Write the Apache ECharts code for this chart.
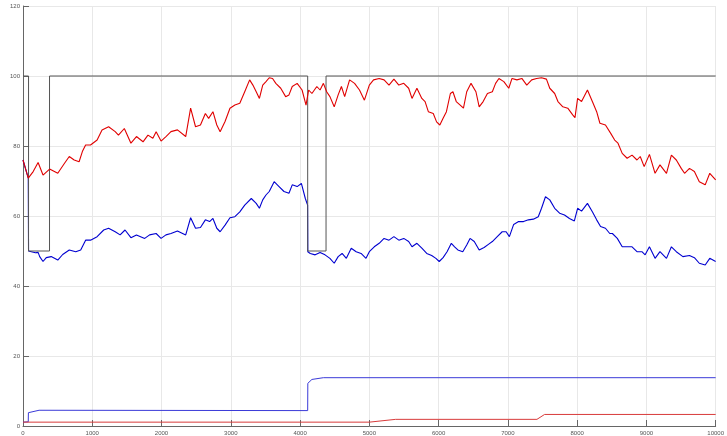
<!DOCTYPE html>
<html>
<head>
<meta charset="utf-8">
<script src="https://cdn.jsdelivr.net/npm/echarts@6/dist/echarts.min.js"></script>
<style>
  html, body { margin: 0; padding: 0; background: #ffffff; }
  #chart { width: 727px; height: 436px; }
</style>
</head>
<body>
<div id="chart"></div>
<script>
// Axis ticks
const xTicks = [0, 1000, 2000, 3000, 4000, 5000, 6000, 7000, 8000, 9000, 10000];
const yTicks = [0, 20, 40, 60, 80, 100, 120];

// Upper red trace [x, value]
const redTrace = [
  [0, 76], [76, 70.8], [147, 72.7], [218, 75.3], [289, 71.7], [384, 73.4], [502, 72.2],
  [597, 75], [668, 77], [739, 76], [810, 75.5], [857, 78.4], [904, 80.3], [975, 80.3],
  [1070, 81.7], [1141, 84.6], [1236, 85.5], [1331, 84.1], [1378, 83.1], [1463, 85],
  [1558, 80.8], [1638, 82.7], [1733, 81.2], [1804, 83.1], [1875, 82.2], [1922, 84.1],
  [1993, 81.4], [2064, 82.7], [2136, 84.1], [2230, 84.6], [2349, 82.7], [2420, 90.8],
  [2491, 85.5], [2562, 86], [2633, 89.3], [2680, 87.9], [2742, 89.8], [2798, 86],
  [2846, 84.1], [2917, 87], [2988, 90.8], [3059, 91.7], [3130, 92.2], [3201, 95.5],
  [3272, 98.9], [3319, 97.4], [3367, 95.5], [3413, 93.6], [3461, 97.4], [3508, 98.4],
  [3555, 99.5], [3603, 99.3], [3650, 97.9], [3721, 96.5], [3792, 94.1], [3840, 94.6],
  [3887, 97], [3958, 97.9], [4029, 96], [4086, 91.7], [4124, 96], [4171, 95], [4242, 97],
  [4289, 96], [4337, 97.9], [4384, 95.5], [4431, 94.1], [4493, 91.2], [4550, 94.6],
  [4597, 97], [4644, 94.1], [4715, 98.9], [4787, 97.9], [4858, 96], [4929, 93.1],
  [5000, 97.4], [5061, 98.9], [5142, 99.3], [5213, 98.9], [5284, 97.4], [5355, 99.1],
  [5426, 97.4], [5497, 97.9], [5568, 96.5], [5616, 93.6], [5687, 96.5], [5758, 93.6],
  [5805, 92.7], [5852, 89.8], [5923, 89.3], [5971, 86.9], [6018, 86], [6065, 87.9],
  [6113, 89.8], [6170, 95], [6207, 95.5], [6255, 92.7], [6312, 91.7], [6359, 90.8],
  [6406, 95.5], [6468, 97.9], [6539, 95.5], [6586, 91.2], [6643, 92.7], [6705, 95],
  [6776, 95.5], [6823, 97.9], [6871, 99.3], [6942, 98.4], [7013, 96.5], [7060, 99.3],
  [7131, 98.9], [7202, 99.3], [7273, 97.4], [7344, 98.9], [7415, 99.3], [7486, 99.5],
  [7557, 99.1], [7605, 96.5], [7676, 95], [7723, 92.7], [7794, 91.2], [7865, 90.8],
  [7936, 88.9], [7969, 88.1], [8007, 93.6], [8064, 92.7], [8149, 96], [8220, 92.7],
  [8282, 89.8], [8329, 86.5], [8409, 86], [8485, 83.6], [8542, 81.7], [8590, 80.8],
  [8651, 77.9], [8722, 76.5], [8793, 77.4], [8864, 76], [8911, 77], [8968, 74.1],
  [9044, 77.6], [9125, 72.2], [9196, 74.6], [9290, 72.2], [9361, 77.4], [9432, 76],
  [9503, 73.6], [9551, 72.2], [9622, 73.6], [9693, 72.7], [9764, 69.8], [9849, 68.9],
  [9915, 72.2], [10000, 70.3]
];

// Upper blue trace [x, value]
const blueTrace = [
  [0, 76], [76, 70.8], [80, 50], [120, 49.8], [180, 49.5], [218, 49.6], [241, 48.4],
  [289, 47], [336, 48.1], [407, 48.4], [502, 47.4], [573, 49], [668, 50.3], [762, 49.8],
  [833, 50.3], [904, 53.1], [975, 53.1], [1070, 54.1], [1165, 56], [1236, 56.5],
  [1331, 55.5], [1402, 54.6], [1473, 56], [1558, 53.8], [1638, 54.6], [1662, 54.1],
  [1757, 53.6], [1828, 54.6], [1922, 55], [1993, 53.6], [2064, 54.6], [2136, 55],
  [2230, 55.7], [2349, 54.6], [2420, 59.5], [2491, 56.5], [2562, 56.7], [2633, 58.9],
  [2694, 58.4], [2742, 59.3], [2798, 56.5], [2846, 55.5], [2917, 57.4], [2988, 59.5],
  [3059, 59.8], [3130, 61.2], [3201, 63.1], [3296, 65], [3367, 63.6], [3413, 62.2],
  [3461, 64.6], [3508, 66], [3555, 67], [3626, 69.8], [3697, 68.4], [3768, 67],
  [3840, 66.5], [3887, 68.9], [3958, 68.4], [4019, 69.3], [4076, 65], [4109, 63.1],
  [4112, 49.8], [4147, 49.3], [4218, 48.9], [4289, 49.6], [4360, 48.9], [4431, 47.9],
  [4493, 46.5], [4550, 48.4], [4607, 49.3], [4668, 47.9], [4739, 50.8], [4810, 49.8],
  [4881, 49.3], [4952, 47.9], [5000, 49.8], [5071, 51.2], [5142, 52.2], [5213, 53.6],
  [5284, 53.1], [5355, 54.1], [5426, 53.1], [5497, 53.6], [5568, 52.7], [5616, 51.2],
  [5687, 52.2], [5758, 50.8], [5829, 49.3], [5900, 48.7], [5961, 47.9], [6009, 47],
  [6065, 48.1], [6122, 49.8], [6184, 52.2], [6231, 51.2], [6278, 50.3], [6349, 49.8],
  [6406, 51.7], [6454, 53.6], [6515, 52.7], [6586, 50.3], [6657, 51], [6719, 51.9],
  [6776, 52.7], [6847, 54.1], [6918, 55.5], [6975, 55.5], [7022, 54.1], [7084, 57.6],
  [7155, 58.4], [7226, 58.4], [7297, 58.9], [7368, 59.1], [7439, 59.8], [7486, 62.2],
  [7543, 65.5], [7605, 64.6], [7676, 62.2], [7747, 60.8], [7818, 60.3], [7889, 59.3],
  [7960, 58.6], [8007, 62.2], [8064, 61.4], [8149, 63.6], [8220, 61.2], [8282, 58.9],
  [8338, 57], [8409, 56.5], [8471, 55], [8509, 55], [8580, 53.6], [8651, 51.2],
  [8722, 51.2], [8793, 51.2], [8864, 49.8], [8935, 49.8], [8982, 48.9], [9044, 51.2],
  [9125, 47.9], [9196, 49.8], [9290, 47.9], [9361, 51.2], [9432, 49.8], [9527, 48.4],
  [9622, 48.7], [9693, 48.1], [9764, 46.5], [9849, 46], [9915, 47.9], [10000, 47]
];

// Setpoint step (black)
const setpoint = [
  [0, 100], [80, 100], [80, 50], [383, 50], [383, 100], [4110, 100], [4110, 50],
  [4375, 50], [4375, 100], [10000, 100]
];

// Lower blue step
const blueLow = [
  [0, 1.1], [76, 1.2], [78, 3.8], [232, 4.5], [4110, 4.4], [4112, 12.2], [4171, 13.3],
  [4337, 13.8], [10000, 13.8]
];

// Lower red ramp
const redLow = [
  [0, 1.1], [5000, 1.1], [5380, 1.9], [7420, 1.9], [7530, 3.3], [10000, 3.3]
];

const chart = echarts.init(document.getElementById('chart'), null, { renderer: 'canvas' });

function lineSeries(name, data, color, width, z) {
  return {
    name: name,
    type: 'line',
    data: data,
    showSymbol: false,
    symbol: 'none',
    z: z,
    lineStyle: { color: color, width: width },
    emphasis: { disabled: true }
  };
}

const labelStyle = { color: '#555', fontSize: 6, fontFamily: 'Liberation Sans, Arial, sans-serif' };

chart.setOption({
  animation: false,
  backgroundColor: '#ffffff',
  grid: { left: 23, right: 0, top: 6, bottom: 10, containLabel: false },
  xAxis: {
    type: 'value',
    min: xTicks[0],
    max: xTicks[xTicks.length - 1],
    interval: 1000,
    axisLine: { show: true, lineStyle: { color: '#666', width: 1 } },
    axisTick: { show: true, inside: true, length: 6, lineStyle: { color: '#666' } },
    axisLabel: Object.assign({
      margin: 4, showMaxLabel: true, alignMaxLabel: 'center', alignMinLabel: 'center',
      formatter: v => String(v)
    }, labelStyle),
    splitLine: { show: true, lineStyle: { color: '#e8e8e8', width: 1 } }
  },
  yAxis: {
    type: 'value',
    min: yTicks[0],
    max: yTicks[yTicks.length - 1],
    interval: 20,
    axisLine: { show: true, lineStyle: { color: '#666', width: 1 } },
    axisTick: { show: true, inside: true, length: 6, lineStyle: { color: '#666' } },
    axisLabel: Object.assign({ margin: 3, formatter: v => String(v) }, labelStyle),
    splitLine: { show: true, lineStyle: { color: '#e8e8e8', width: 1 } }
  },
  series: [
    lineSeries('blueLow', blueLow, '#3a3ad8', 1, 3),
    lineSeries('redLow', redLow, '#d83a3a', 1, 4),
    lineSeries('blueTrace', blueTrace, '#0000d0', 1.1, 5),
    lineSeries('setpoint', setpoint, '#555555', 1, 6),
    lineSeries('redTrace', redTrace, '#e00000', 1.1, 7)
  ]
});
</script>
</body>
</html>
